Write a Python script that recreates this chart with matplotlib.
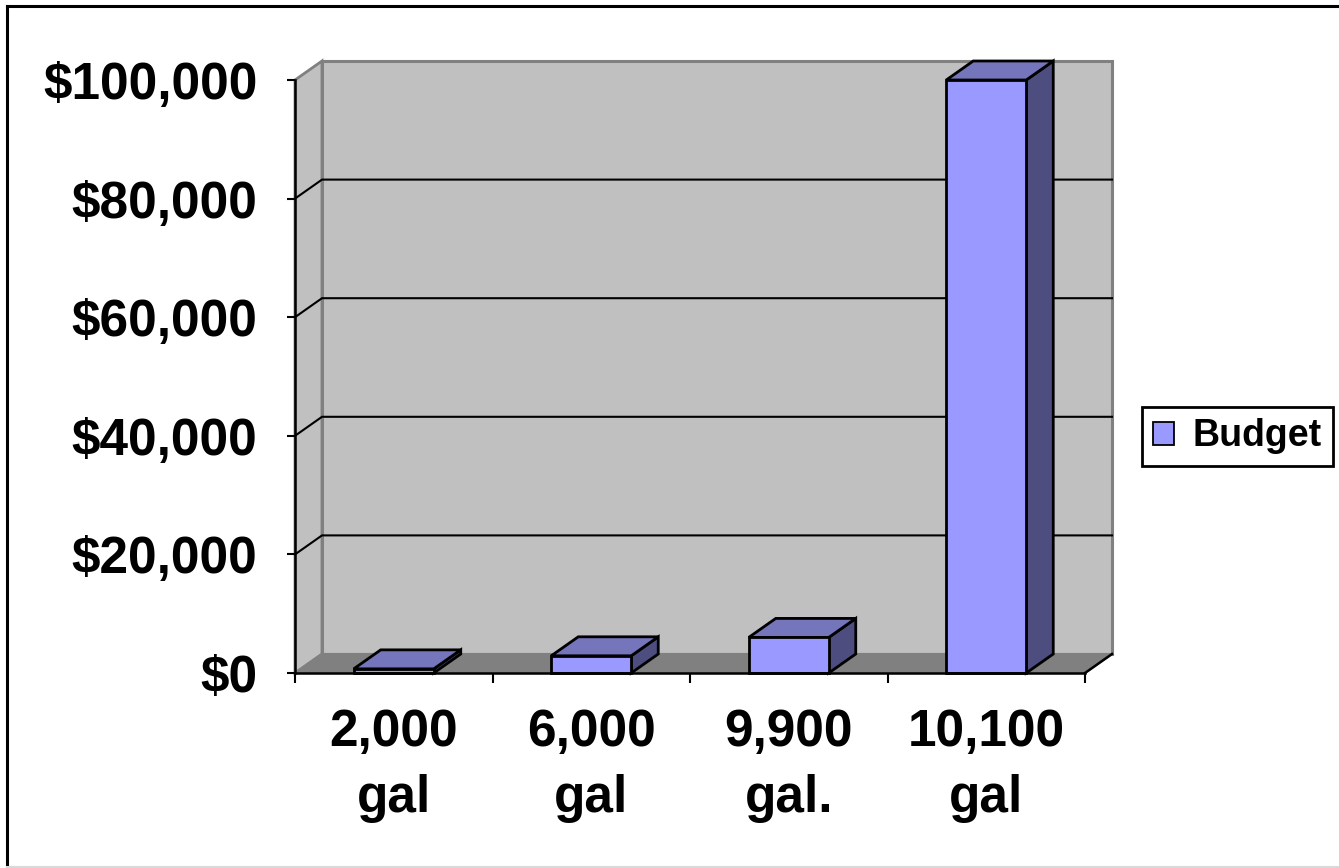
import matplotlib
matplotlib.use("Agg")
import matplotlib.pyplot as plt
import numpy as np
from matplotlib.patches import Polygon, Patch
from matplotlib.lines import Line2D
from matplotlib.transforms import IdentityTransform

# Data
categories = ["2,000\ngal", "6,000\ngal", "9,900\ngal.", "10,100\ngal"]
budget = [700, 2900, 6000, 100000]
y_ticks = [0, 20000, 40000, 60000, 80000, 100000]
y_tick_labels = ["$0", "$20,000", "$40,000", "$60,000", "$80,000", "$100,000"]
series_name = "Budget"

# Styling
FONT = "Liberation Sans"
FRONT = "#9999ff"
TOP = "#7575bb"
SIDE = "#4d4d80"
WALL = "#c0c0c0"
FLOOR = "#808080"
WALL_EDGE = "#808080"
DX, DY = 27, 19          # oblique depth offset in pixels
BAR_W = 0.405

W, H = 1339, 868
fig = plt.figure(figsize=(W / 100, H / 100), dpi=100)
fig.patch.set_facecolor("white")
ax = fig.add_axes([295 / W, (H - 673) / H, 790 / W, 593 / H])
ax.set_xlim(-0.5, len(categories) - 0.5)
ax.set_ylim(0, 100000)
ax.set_facecolor("none")

xmin, xmax = ax.get_xlim()
ymin, ymax = ax.get_ylim()


def P(x, y, d=0.0):
    px, py = ax.transData.transform((x, y))
    return (px + d * DX, py + d * DY)


def poly(pts, fc, ec, lw, z):
    p = Polygon(pts, closed=True, facecolor=fc, edgecolor=ec, linewidth=lw,
                transform=IdentityTransform(), clip_on=False, zorder=z,
                joinstyle="miter")
    ax.add_artist(p)
    return p


def line(pts, color, lw, z):
    xs, ys = zip(*pts)
    l = Line2D(xs, ys, color=color, linewidth=lw, transform=IdentityTransform(),
               clip_on=False, zorder=z, solid_joinstyle="miter")
    ax.add_artist(l)


# Side wall, back wall and floor
poly([P(xmin, ymin, 0), P(xmin, ymin, 1), P(xmin, ymax, 1), P(xmin, ymax, 0)],
     WALL, WALL_EDGE, 2.0, 0.5)
poly([P(xmin, ymin, 1), P(xmax, ymin, 1), P(xmax, ymax, 1), P(xmin, ymax, 1)],
     WALL, WALL_EDGE, 2.2, 0.6)
poly([P(xmin, ymin, 0), P(xmax, ymin, 0), P(xmax, ymin, 1), P(xmin, ymin, 1)],
     FLOOR, WALL_EDGE, 1.5, 0.7)
line([P(xmax, ymin, 0), P(xmax, ymin, 1)], "black", 1.8, 0.8)

# Gridlines across side wall and back wall
for v in y_ticks[1:-1]:
    line([P(xmin, v, 0), P(xmin, v, 1), P(xmax, v, 1)], "black", 1.5, 0.9)

# Bars
for i, v in enumerate(budget):
    l, r = i - BAR_W / 2, i + BAR_W / 2
    poly([P(r, 0, 0), P(r, v, 0), P(r, v, 1), P(r, 0, 1)], SIDE, "black", 2.0, 3)
    poly([P(l, v, 0), P(r, v, 0), P(r, v, 1), P(l, v, 1)], TOP, "black", 2.0, 3.1)
    poly([P(l, 0, 0), P(r, 0, 0), P(r, v, 0), P(l, v, 0)], FRONT, "black", 2.0, 3.2)

# Axes
for s in ["top", "right"]:
    ax.spines[s].set_visible(False)
for s in ["left", "bottom"]:
    ax.spines[s].set_color("black")
    ax.spines[s].set_linewidth(1.8)
    ax.spines[s].set_zorder(4)

ax.set_yticks(y_ticks)
ax.set_yticklabels(y_tick_labels, fontfamily=FONT, fontweight="bold", fontsize=37)
ax.tick_params(axis="y", direction="out", length=6, width=1.5, pad=21, color="black")

ax.set_xticks(range(len(categories)))
ax.set_xticklabels(categories, fontfamily=FONT, fontweight="bold", fontsize=37,
                   linespacing=1.45)
ax.set_xticks(np.arange(-0.5, len(categories), 1.0), minor=True)
ax.tick_params(axis="x", which="major", length=0, pad=25)
ax.tick_params(axis="x", which="minor", direction="out", length=7.5, width=1.5,
               color="black")

# Legend
leg = fig.legend(handles=[Patch(facecolor=FRONT, edgecolor="black", linewidth=1.3)],
                 labels=[series_name], loc="center left",
                 bbox_to_anchor=(1142 / W, 1 - 436.5 / H), borderaxespad=0,
                 frameon=True, fancybox=False, framealpha=1, edgecolor="black",
                 prop={"family": FONT, "weight": "bold", "size": 27},
                 handlelength=0.55, handleheight=0.55, handletextpad=0.5,
                 borderpad=0.3)
leg.get_frame().set_linewidth(2)

# Chart area border
fig.add_artist(Line2D([7 / W, 7 / W], [0, 1 - 6 / H], color="black", linewidth=2.2,
                      transform=fig.transFigure))
fig.add_artist(Line2D([7 / W, 1], [1 - 6 / H, 1 - 6 / H], color="black",
                      linewidth=2.2, transform=fig.transFigure))
fig.add_artist(Line2D([7 / W, 1], [1.5 / H, 1.5 / H], color="#d9d9d9",
                      linewidth=1.5, transform=fig.transFigure))

fig.savefig("out.png", dpi=100)
